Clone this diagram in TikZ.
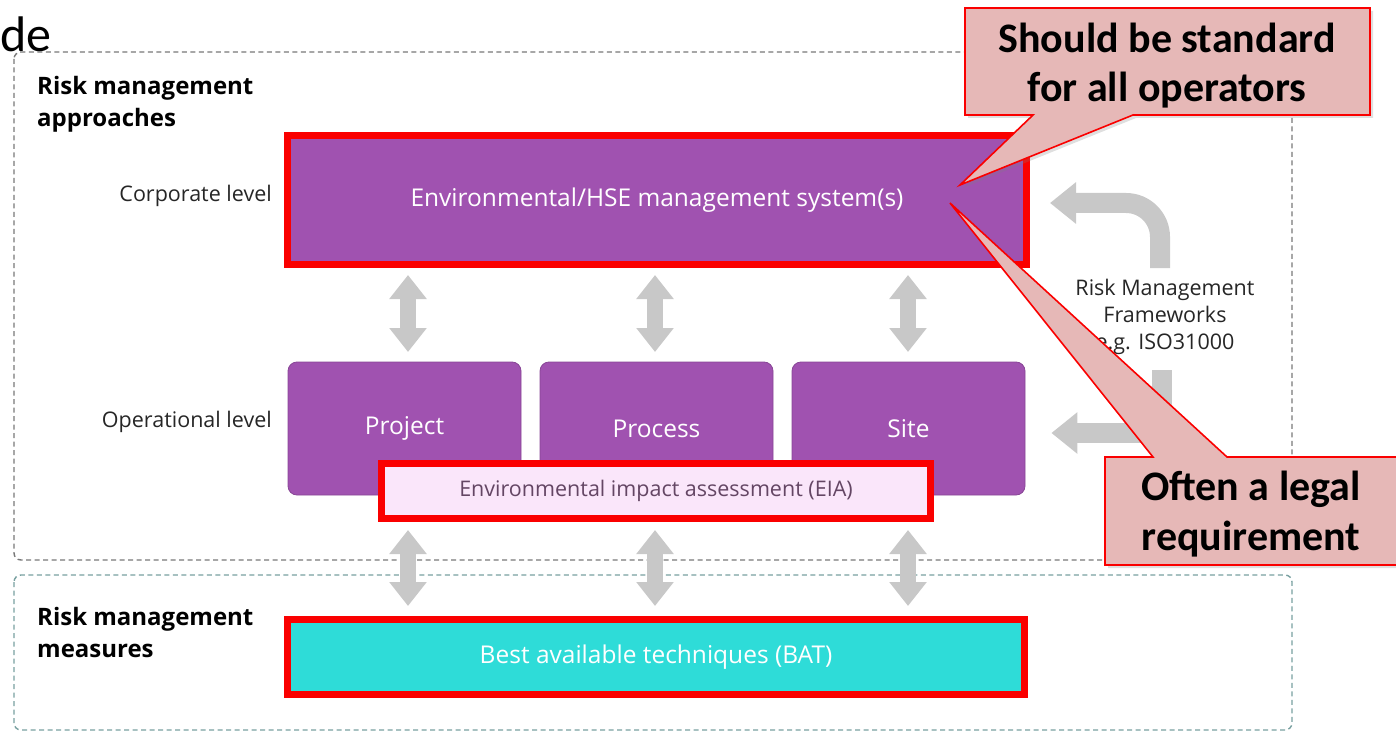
\documentclass[tikz,border=0pt]{standalone}
\usepackage{fontspec}
\setmainfont{Open Sans}
\newfontfamily\calfont{Carlito}
\usetikzlibrary{arrows.meta,shadows}

\definecolor{hsepurple}{RGB}{160,82,176}
\definecolor{eiapink}{RGB}{250,230,250}
\definecolor{batcyan}{RGB}{46,220,216}
\definecolor{boxred}{RGB}{250,0,0}
\definecolor{arrgray}{RGB}{200,200,200}
\definecolor{notefill}{RGB}{230,184,183}
\definecolor{framegray}{RGB}{120,120,120}
\definecolor{frameteal}{RGB}{120,160,160}
\definecolor{eiatext}{RGB}{100,70,100}

\tikzset{
  redbox/.style={draw=boxred, line width=7pt, inner sep=0pt, text=white,
    font=\fontsize{24.5}{28}\selectfont},
  opbox/.style={fill=hsepurple, draw=hsepurple!85!black, line width=0.8pt,
    rounded corners=9pt, minimum width=233pt, minimum height=133pt,
    inner sep=0pt, text=white, font=\fontsize{24.5}{28}\selectfont},
  vdbl/.style={line width=16pt, draw=arrgray,
    {Triangle[length=24pt,width=36pt]}-{Triangle[length=24pt,width=36pt]}},
  bend arrow/.style={line width=20pt, draw=arrgray,
    -{Triangle[length=26pt,width=40pt]}},
  sectitle/.style={anchor=west, align=left, inner sep=0pt,
    font=\bfseries\fontsize{24}{32}\selectfont},
  lvl/.style={anchor=east, inner sep=0pt, text=black!85,
    font=\fontsize{21.5}{24}\selectfont},
  frame/.style={dashed, dash pattern=on 5pt off 3.5pt, line width=1.4pt,
    rounded corners=7pt},
  note/.style={fill=notefill, draw=boxred, line width=1.6pt,
    drop shadow={opacity=0.25, shadow xshift=3pt, shadow yshift=-3pt}},
  notetext/.style={inner sep=0pt, font=\calfont\bfseries\fontsize{42}{46}\selectfont}
}

\begin{document}
\begin{tikzpicture}[x=1pt, y=-1pt]
\useasboundingbox (0,0) rectangle (1396,735);

% fragment of the slide heading
\node[anchor=base west, inner sep=0pt, font=\calfont\fontsize{50}{56}\selectfont]
  (head) at (0,52) {de};

% section frames
\draw[frame, draw=framegray] (14,52) rectangle (1292,560);
\draw[frame, draw=frameteal] (14,575) rectangle (1292,730);

% section titles and level labels
\node[sectitle] (apptitle) at (37,104) {Risk management\\approaches};
\node[sectitle] (meastitle) at (37,632) {Risk management\\measures};
\node[lvl] (corplbl) at (272,196) {Corporate level};
\node[lvl] (oplbl) at (272,422) {Operational level};

% corporate level
\node[redbox, fill=hsepurple, minimum width=739pt, minimum height=129pt]
  (corp) at (657,200) {Environmental/HSE management system(s)};

% operational level
\node[opbox] (proj) at (404.5,428.5) {Project};
\node[opbox] (proc) at (656.5,428.5) {Process};
\node[opbox] (site) at (908.5,428.5) {Site};

\node[redbox, fill=eiapink, text=eiatext, minimum width=549pt, minimum height=55pt,
  font=\fontsize{21.5}{24}\selectfont] (eia) at (656,491)
  {Environmental impact assessment (EIA)};

% measures
\node[redbox, fill=batcyan, minimum width=737pt, minimum height=75pt,
  font=\fontsize{24.5}{28}\selectfont] (bat) at (656,657)
  {Best available techniques (BAT)};

% links between levels
\foreach \b/\x in {proj/408, proc/655, site/908}{
  \draw[vdbl] (\x,275) -- (\x,352);
  \draw[vdbl] (\x,530) -- (\x,606);
}

% framework feedback arrows
\node[align=center, inner sep=0pt, text=black!85, font=\fontsize{21.5}{27}\selectfont]
  (rmf) at (1165,317) {Risk Management\\Frameworks\\e.g. ISO31000};
\coordinate (rmfTop) at (1160,268);
\coordinate (rmfBot) at (1162,370);
\draw[bend arrow, rounded corners=34pt] (rmfTop) -- (1160,203) -- ([xshift=20pt]corp.east |- 0,203);
\draw[bend arrow] (rmfBot) -- (1162,433) -- ([xshift=26pt]site.east |- 0,433);

% callouts
\draw[note] (965,8) -- (1370,8) -- (1370,115) -- (1133,115) -- (960,185)
  -- (1033,115) -- (965,115) -- cycle;
\node[notetext] (std1) at (1167,38) {Should be standard};
\node[notetext] (std2) at (1167,90) {for all operators};

\draw[note] (1105,457) -- (1153,457) -- (950,203) -- (1227,457) -- (1402,457)
  -- (1402,565) -- (1105,565) -- cycle;
\node[notetext] (leg1) at (1251,489) {Often a legal};
\node[notetext] (leg2) at (1251,539) {requirement};
\end{tikzpicture}
\end{document}
